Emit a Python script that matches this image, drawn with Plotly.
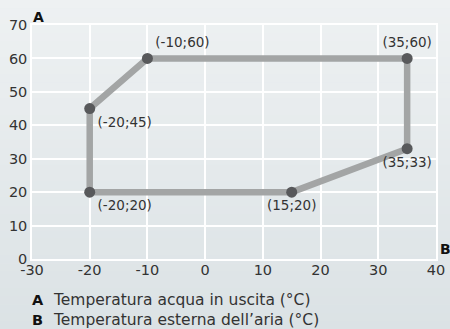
import plotly.graph_objects as go

# Data
x_vals = [-20, -20, -10, 35, 35, 15, -20]
y_vals = [20, 45, 60, 60, 33, 20, 20]
labels = ["(-20;20)", "(-20;45)", "(-10;60)", "(35;60)", "(35;33)", "(15;20)", ""]
label_pos = ["bottom right", "bottom right", "top right", "top center", "bottom center", "bottom center", "bottom right"]
x_ticks = [-30, -20, -10, 0, 10, 20, 30, 40]
x_tick_text = ["-30", "-20", "-10", "0", "10", "20", "30", "40"]
y_ticks = [0, 10, 20, 30, 40, 50, 60, 70]
y_tick_text = ["0", "10", "20", "30", "40", "50", "60", "70"]
axis_a = "Temperatura acqua in uscita (°C)"
axis_b = "Temperatura esterna dell’aria (°C)"

W, H = 450, 329
ML, MR, MT, MB = 32, 14, 25, 70
ph = H - MT - MB
pw = W - ML - MR

FONT = "DejaVu Sans"
TXT = "#333333"

fig = go.Figure()

# polygon line
fig.add_trace(go.Scatter(
    x=x_vals, y=y_vals, mode="lines",
    line=dict(color="#a3a5a5", width=6.5),
    hoverinfo="skip", showlegend=False))
# points + labels
fig.add_trace(go.Scatter(
    x=x_vals[:-1], y=y_vals[:-1], mode="markers+text",
    marker=dict(color="#58595b", size=11),
    text=labels[:-1], textposition=label_pos[:-1],
    textfont=dict(family=FONT, size=13.5, color=TXT),
    hoverinfo="skip", showlegend=False, cliponaxis=False))

# background gradient bands
top = (238, 241, 242)
bot = (219, 226, 229)
N = 40
shapes = []
for i in range(N):
    p0 = H * i / N
    p1 = H * (i + 1) / N + 0.5
    t = (i + 0.5) / N
    c = tuple(round(top[k] + (bot[k] - top[k]) * t) for k in range(3))
    shapes.append(dict(type="rect", xref="paper", yref="paper",
                       x0=-ML / pw - 0.01, x1=1 + MR / pw + 0.01,
                       y0=(H - MB - p1) / ph, y1=(H - MB - p0) / ph,
                       line=dict(width=0), fillcolor="rgb(%d,%d,%d)" % c,
                       layer="below"))

def ann(text, px, py, size=14, color=TXT):
    return dict(text=text, x=(px - ML) / pw, y=(H - MB - py) / ph, xref="paper", yref="paper",
                xanchor="left", yanchor="middle", showarrow=False,
                font=dict(family=FONT, size=size, color=color))

annotations = [
    ann("<b>A</b>", 31, 17, 14, "#111111"),
    ann("<b>B</b>", 438, 249, 14, "#111111"),
    ann("<b>A</b>", 30, 300, 14.5, "#111111"),
    ann(axis_a, 51, 300, 15.5),
    ann("<b>B</b>", 30, 320, 14.5, "#111111"),
    ann(axis_b, 51, 320, 15.5),
]

fig.update_layout(
    width=W, height=H,
    margin=dict(l=ML, r=MR, t=MT, b=MB, pad=0, autoexpand=False),
    paper_bgcolor="rgb(229,234,236)",
    plot_bgcolor="rgba(0,0,0,0)",
    shapes=shapes,
    annotations=annotations,
    font=dict(family=FONT, color=TXT, size=14),
)
fig.update_xaxes(range=[-30, 40], tickvals=x_ticks, ticktext=x_tick_text, showgrid=True,
                 gridcolor="white", gridwidth=1.5, zeroline=False, showline=True,
                 linecolor="white", linewidth=1.5, mirror=True, ticks="", ticklen=0,
                 ticklabelstandoff=-3,
                 automargin=False, tickfont=dict(family=FONT, size=14.5, color=TXT))
fig.update_yaxes(range=[0, 70], tickvals=y_ticks, ticktext=y_tick_text, showgrid=True,
                 gridcolor="white", gridwidth=1.5, zeroline=False, showline=True,
                 linecolor="white", linewidth=1.5, mirror=True, ticks="", ticklen=0,
                 automargin=False, tickfont=dict(family=FONT, size=14.5, color=TXT))

fig.write_html("out.html", config={"displayModeBar": False},
               post_script="document.body.style.margin='0';document.body.style.overflow='hidden';")
